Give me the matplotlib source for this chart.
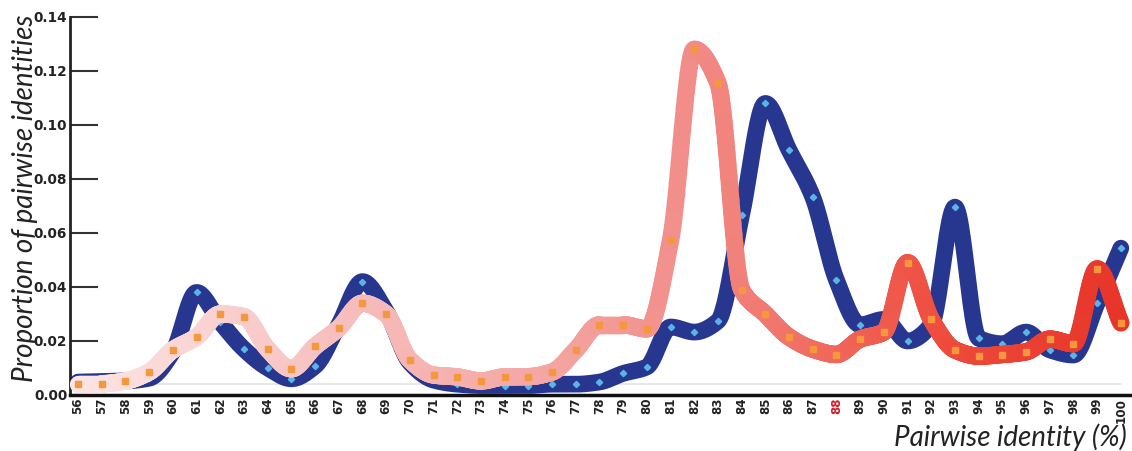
import matplotlib
matplotlib.use('Agg')
import matplotlib.pyplot as plt
import numpy as np
from matplotlib.collections import LineCollection
from matplotlib.colors import to_rgb

# pairwise identity (%) and proportions
identity = list(range(56, 101))

blue_vals = [0.0048, 0.0050, 0.0052, 0.0062, 0.0160, 0.0380, 0.0270, 0.0170, 0.0100, 0.0060,
             0.0107, 0.0260, 0.0420, 0.0310, 0.0120, 0.0055, 0.0040, 0.0035, 0.0035, 0.0035,
             0.0040, 0.0040, 0.0048, 0.0080, 0.0104, 0.0252, 0.0233, 0.0274, 0.0667, 0.1080,
             0.0907, 0.0733, 0.0426, 0.0260, 0.0280, 0.0200, 0.0260, 0.0696, 0.0210, 0.0190,
             0.0233, 0.0167, 0.0148, 0.0340, 0.0544]

pink_vals = [0.0042, 0.0042, 0.0052, 0.0085, 0.0167, 0.0215, 0.0300, 0.0290, 0.0170, 0.0097,
             0.0180, 0.0248, 0.0340, 0.0300, 0.0130, 0.0074, 0.0067, 0.0052, 0.0067, 0.0068,
             0.0085, 0.0167, 0.0260, 0.0260, 0.0245, 0.0574, 0.1280, 0.1155, 0.0390, 0.0300,
             0.0215, 0.0170, 0.0150, 0.0207, 0.0233, 0.0490, 0.0280, 0.0167, 0.0144, 0.0150,
             0.0160, 0.0207, 0.0190, 0.0467, 0.0267]

y_ticks = [0.00, 0.02, 0.04, 0.06, 0.08, 0.10, 0.12, 0.14]

# gradient stops for the second curve
grad_x = [56, 62, 68, 76, 82, 88, 93, 100]
grad_c = ['#fce6e5', '#f9d2d1', '#f6bcba', '#f4a6a3', '#f28c88', '#f0685c', '#ee4a3c', '#e8352a']


def smooth(x, y, n=24):
    # monotone cubic (fritsch-carlson) so peaks sit on the points
    x = np.asarray(x, float)
    y = np.asarray(y, float)
    h = np.diff(x)
    d = np.diff(y) / h
    m = np.zeros_like(y)
    m[0], m[-1] = d[0], d[-1]
    for i in range(1, len(y) - 1):
        if d[i - 1] * d[i] > 0:
            w1 = 2 * h[i] + h[i - 1]
            w2 = h[i] + 2 * h[i - 1]
            m[i] = (w1 + w2) / (w1 / d[i - 1] + w2 / d[i])
    xs, ys = [], []
    for i in range(len(x) - 1):
        t = np.linspace(0, 1, n, endpoint=False)
        h00 = 2 * t ** 3 - 3 * t ** 2 + 1
        h10 = t ** 3 - 2 * t ** 2 + t
        h01 = -2 * t ** 3 + 3 * t ** 2
        h11 = t ** 3 - t ** 2
        ys.append(h00 * y[i] + h10 * h[i] * m[i] + h01 * y[i + 1] + h11 * h[i] * m[i + 1])
        xs.append(x[i] + h[i] * t)
    xs.append([x[-1]])
    ys.append([y[-1]])
    return np.concatenate(xs), np.concatenate(ys)


fig = plt.figure(figsize=(11.32, 4.51), dpi=100)
ax = fig.add_axes([70 / 1132, 1 - 395 / 451, 1 - 70 / 1132, 378 / 451])

# faint baseline
ax.plot([56, 100], [0.0041, 0.0041], color='#e4e4e4', lw=1.2, zorder=1)

bx, by = smooth(identity, blue_vals)
ax.plot(bx, by, color='#27368f', lw=12, solid_capstyle='round', solid_joinstyle='round', zorder=2)
ax.plot(identity, blue_vals, ls='none', marker='D', ms=3.2, color='#5ab4e6', zorder=3)

px, py = smooth(identity, pink_vals)
rgb = np.array([to_rgb(c) for c in grad_c])
mid = (px[:-1] + px[1:]) / 2
cols = np.column_stack([np.interp(mid, grad_x, rgb[:, k]) for k in range(3)])
pts = np.column_stack([px, py]).reshape(-1, 1, 2)
segs = np.concatenate([pts[:-1], pts[1:]], axis=1)
lc = LineCollection(segs, colors=cols, linewidths=12.5, capstyle='round', joinstyle='round', zorder=4)
ax.add_collection(lc)
ax.plot(identity, pink_vals, ls='none', marker='s', ms=4.6, color='#f5973c', zorder=5)

ax.set_xlim(55.66, 100.47)
ax.set_ylim(0, 0.14)

for s in ['top', 'right']:
    ax.spines[s].set_visible(False)
ax.spines['left'].set_linewidth(2)
ax.spines['left'].set_color('#222222')
ax.spines['bottom'].set_linewidth(2.5)
ax.spines['bottom'].set_color('#111111')

ax.set_yticks(y_ticks)
ax.set_yticklabels(['%.2f' % v for v in y_ticks], fontweight='bold', fontsize=9.8, color='#222222')
ax.tick_params(axis='y', direction='in', length=20, width=1.5, color='#333333', pad=2)

ax.set_xticks(identity)
ax.set_xticklabels([str(v) for v in identity], rotation=90, fontweight='bold', fontsize=8.6,
                   color='#222222')
ax.tick_params(axis='x', length=0, pad=2)
for lab in ax.get_xticklabels():
    if lab.get_text() == '88':
        lab.set_color('#d0202a')

fig.text(25 / 1132, 1 - 198 / 451, 'Proportion of pairwise identities', rotation=90,
         ha='center', va='center', fontsize=20, family='Lato', style='italic', weight='normal',
         color='#222222')
fig.text(1127 / 1132, 1 - 437 / 451, 'Pairwise identity (%)', ha='right', va='center',
         fontsize=20, family='Lato', style='italic', weight='normal', color='#222222')

fig.savefig('out.png', dpi=100)
